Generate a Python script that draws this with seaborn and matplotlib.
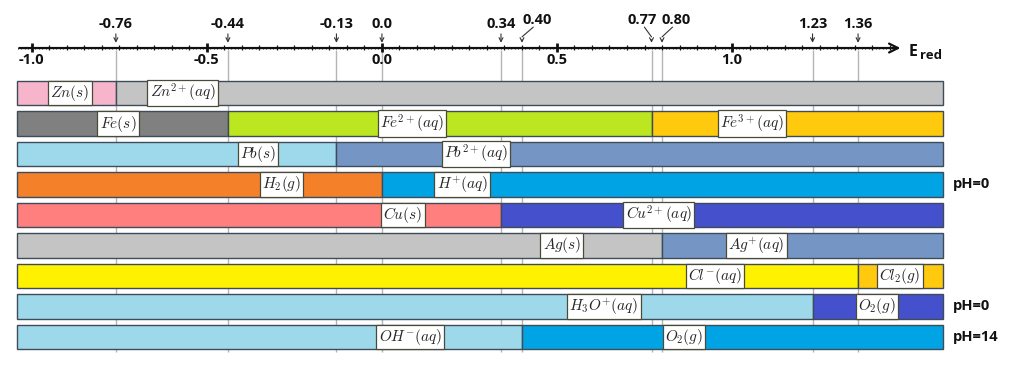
import numpy as np
import matplotlib.pyplot as plt
import seaborn as sns

# standard reduction potentials marked on the axis
e_values = [-0.76, -0.44, -0.13, 0.0, 0.34, 0.40, 0.77, 0.80, 1.23, 1.36]
e_labels = ["-0.76", "-0.44", "-0.13", "0.0", "0.34", "0.40", "0.77", "0.80", "1.23", "1.36"]
# labels that are shifted sideways (value -> label x)
e_shift = {0.40: 0.443, 0.77: 0.743, 0.80: 0.84}
major_ticks = [-1.0, -0.5, 0.0, 0.5, 1.0]

# one row per couple: boundaries, species names, colours, label positions
bounds = [[-0.76], [-0.44, 0.77], [-0.13], [0.0], [0.34], [0.80], [1.36], [1.23], [0.40]]
species = [
    [r"$Zn(s)$", r"$Zn^{2+}(aq)$"],
    [r"$Fe(s)$", r"$Fe^{2+}(aq)$", r"$Fe^{3+}(aq)$"],
    [r"$Pb(s)$", r"$Pb^{2+}(aq)$"],
    [r"$H_2(g)$", r"$H^{+}(aq)$"],
    [r"$Cu(s)$", r"$Cu^{2+}(aq)$"],
    [r"$Ag(s)$", r"$Ag^{+}(aq)$"],
    [r"$Cl^{-}(aq)$", r"$Cl_2(g)$"],
    [r"$H_3O^{+}(aq)$", r"$O_2(g)$"],
    [r"$OH^{-}(aq)$", r"$O_2(g)$"],
]
colors = [
    ["#F7B5CC", "#C4C4C4"],
    ["#808080", "#BBE620", "#FFC90E"],
    ["#9DD9EA", "#7596C4"],
    ["#F5802A", "#00A4E4"],
    ["#FF7F7F", "#4550CC"],
    ["#C4C4C4", "#7596C4"],
    ["#FFF200", "#FFC90E"],
    ["#9DD9EA", "#4550CC"],
    ["#9DD9EA", "#00A4E4"],
]
label_x = [
    [-0.891, -0.569],
    [-0.754, 0.086, 1.057],
    [-0.354, 0.269],
    [-0.286, 0.229],
    [0.060, 0.791],
    [0.514, 1.069],
    [0.951, 1.480],
    [0.634, 1.414],
    [0.080, 0.863],
]
ph_notes = {3: "pH=0", 7: "pH=0", 8: "pH=14"}

x_lo, x_hi = -1.043, 1.603

sns.set_theme(style="white")
plt.rcParams['font.family'] = ['Open Sans', 'DejaVu Sans']
plt.rcParams['mathtext.fontset'] = 'cm'

fig = plt.figure(figsize=(10.24, 3.76), dpi=100)
ax = fig.add_axes([0, 0, 1, 1])
ax.set_xlim(-1.091, 1.834)
ax.set_ylim(9.28, -3.05)
ax.axis("off")

axis_y = -1.475

# grey guide lines behind the bars
ax.vlines(e_values, axis_y + 0.06, 8.5, color="#B4B4B4", lw=1, zorder=0)

# bars
for i, (b, names, cols, lx) in enumerate(zip(bounds, species, colors, label_x)):
    edges = [x_lo] + b + [x_hi]
    for j in range(len(names)):
        ax.barh(i, edges[j + 1] - edges[j], left=edges[j], height=0.8,
                color=cols[j], edgecolor="#3E4B58", lw=1, zorder=2)
        ax.text(lx[j], i, names[j], ha="center", va="center", fontsize=11, zorder=4,
                bbox=dict(boxstyle="square,pad=0.15", fc="white", ec="#4A4A38", lw=0.9))
    if i in ph_notes:
        ax.text(1.631, i, ph_notes[i], ha="left", va="center", fontsize=10.5,
                fontweight="bold", color="#111111")

# the potential axis
ax.annotate("", xy=(1.489, axis_y), xytext=(x_lo, axis_y),
            arrowprops=dict(arrowstyle="->", lw=1.6, color="#111111", mutation_scale=16))
small = np.round(np.arange(-1.04, 1.47, 0.01), 2)
ax.vlines(small, axis_y - 0.03, axis_y + 0.03, color="#111111", lw=0.6)
mid = np.round(np.arange(-1.0, 1.46, 0.05), 2)
ax.vlines(mid, axis_y - 0.09, axis_y + 0.06, color="#111111", lw=0.9)
ax.vlines(major_ticks, axis_y - 0.18, axis_y + 0.12, color="#111111", lw=2)
for t in major_ticks:
    ax.text(t, -1.08, f"{t:.1f}", ha="center", va="center", fontsize=10.5,
            fontweight="bold", color="#111111")
ax.text(1.505, axis_y + 0.12, "E", ha="left", va="center", fontsize=11.5,
        fontweight="bold", color="#111111")
ax.text(1.537, axis_y + 0.24, "red", ha="left", va="center", fontsize=9.5,
        fontweight="bold", color="#111111")

# marked potentials with arrows
for v, lab in zip(e_values, e_labels):
    if v in e_shift:
        lx = e_shift[v]
        ax.text(lx, -2.39, lab, ha="center", va="center", fontsize=10.5,
                fontweight="bold", color="#111111")
        ax.plot([lx + (v - lx) * 0.25, v], [-2.16, -1.84], color="#333333", lw=0.8)
        start = -1.84
    else:
        ax.text(v, -2.26, lab, ha="center", va="center", fontsize=10.5,
                fontweight="bold", color="#111111")
        start = -2.03
    ax.annotate("", xy=(v, axis_y - 0.08), xytext=(v, start),
                arrowprops=dict(arrowstyle="->", lw=0.8, color="#333333", mutation_scale=7))

plt.savefig("out.png", dpi=100)
